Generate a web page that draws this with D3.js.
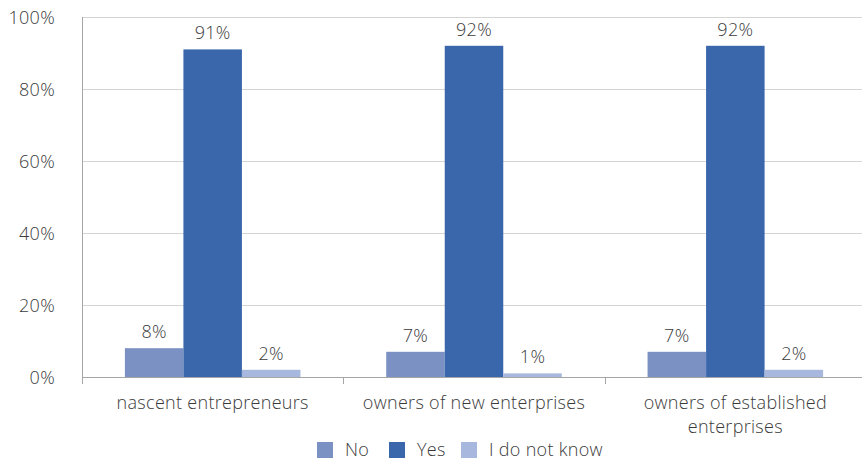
<!DOCTYPE html>
<html>
<head>
<meta charset="utf-8">
<script src="https://cdn.jsdelivr.net/npm/d3@7"></script>
<style>
  html, body { margin: 0; padding: 0; background: #fff; }
  svg { display: block; font-family: "Open Sans", "Segoe UI", sans-serif; }
  text { fill: #3a3a3a; letter-spacing: 0.3px; }
</style>
</head>
<body>
<svg id="chart" width="862" height="460"></svg>
<script>
// Survey answers by entrepreneur type (percent)
const categories = [
  ["nascent entrepreneurs"],
  ["owners of new enterprises"],
  ["owners of established", "enterprises"]
];
const seriesNames = ["No", "Yes", "I do not know"];
const noValues = [8, 7, 7];
const yesValues = [91, 92, 92];
const dontKnowValues = [2, 1, 2];
const yTicks = [0, 20, 40, 60, 80, 100];
const seriesColors = ["#7b91c4", "#3a67ab", "#a8b7dd"];

const series = [noValues, yesValues, dontKnowValues];
const FS = 18;

const svg = d3.select("#chart");
const margin = { left: 82, top: 17, bottom: 377 };
const plotRight = 866;

const x = d3.scaleBand()
  .domain(d3.range(categories.length))
  .range([margin.left, plotRight])
  .paddingInner(0)
  .paddingOuter(0);

const inner = d3.scaleBand()
  .domain(d3.range(seriesNames.length))
  .range([0, x.bandwidth()])
  .paddingOuter(0.733)
  .paddingInner(0);

const y = d3.scaleLinear().domain([0, 100]).range([margin.bottom, margin.top]);

// horizontal gridlines
svg.append("g")
  .selectAll("line")
  .data(yTicks.filter(t => t > 0))
  .join("line")
  .attr("x1", margin.left)
  .attr("x2", 862)
  .attr("y1", d => y(d) + 0.5)
  .attr("y2", d => y(d) + 0.5)
  .attr("stroke", "#d4d4d4")
  .attr("stroke-width", 1);

// y axis labels
const yAxis = d3.axisLeft(y).tickValues(yTicks).tickFormat(d => d + "%").tickSize(0).tickPadding(27);
const yg = svg.append("g").attr("transform", `translate(${margin.left},0)`).call(yAxis);
yg.select(".domain").remove();
yg.selectAll("text")
  .attr("font-size", FS)
  .attr("font-weight", 300)
  .attr("fill", "#3a3a3a")
  .attr("font-family", "\"Open Sans\", sans-serif")
  .attr("dy", "0.35em");

// bars
const groups = svg.append("g")
  .selectAll("g")
  .data(categories.map((c, i) => i))
  .join("g")
  .attr("transform", i => `translate(${x(i)},0)`);

groups.selectAll("rect")
  .data(i => series.map((s, k) => ({ k, v: s[i] })))
  .join("rect")
  .attr("x", d => inner(d.k))
  .attr("width", inner.bandwidth())
  .attr("y", d => y(d.v))
  .attr("height", d => y(0) - y(d.v))
  .attr("fill", d => seriesColors[d.k]);

// value labels
groups.selectAll("text.val")
  .data(i => series.map((s, k) => ({ k, v: s[i] })))
  .join("text")
  .attr("class", "val")
  .attr("x", d => inner(d.k) + inner.bandwidth() / 2)
  .attr("y", d => y(d.v) - 10)
  .attr("text-anchor", "middle")
  .attr("font-size", FS)
  .attr("font-weight", 300)
  .text(d => d.v + "%");

// x axis baseline and ticks
svg.append("line")
  .attr("x1", margin.left).attr("x2", 862)
  .attr("y1", y(0) + 0.5).attr("y2", y(0) + 0.5)
  .attr("stroke", "#a6a6a6");
svg.append("line")
  .attr("x1", margin.left + 0.5).attr("x2", margin.left + 0.5)
  .attr("y1", margin.top).attr("y2", y(0) + 7)
  .attr("stroke", "#a6a6a6");
svg.append("g")
  .selectAll("line")
  .data(d3.range(1, categories.length))
  .join("line")
  .attr("x1", i => Math.round(x(i)) + 0.5)
  .attr("x2", i => Math.round(x(i)) + 0.5)
  .attr("y1", y(0))
  .attr("y2", y(0) + 7)
  .attr("stroke", "#a6a6a6");

// category labels
svg.append("g")
  .selectAll("text")
  .data(categories)
  .join("text")
  .attr("x", (d, i) => x(i) + x.bandwidth() / 2)
  .attr("y", 409)
  .attr("text-anchor", "middle")
  .attr("font-size", FS)
  .attr("font-weight", 300)
  .selectAll("tspan")
  .data((d, i) => d.map(line => ({ line, i })))
  .join("tspan")
  .attr("x", d => x(d.i) + x.bandwidth() / 2)
  .attr("dy", (d, j) => j === 0 ? 0 : 24)
  .text(d => d.line);

// legend
const legendX = [317, 389, 461];
const legend = svg.append("g")
  .selectAll("g")
  .data(seriesNames)
  .join("g")
  .attr("transform", (d, i) => `translate(${legendX[i]},442)`);
legend.append("rect")
  .attr("width", 16).attr("height", 16)
  .attr("fill", (d, i) => seriesColors[i]);
legend.append("text")
  .attr("x", 28).attr("y", 14)
  .attr("font-size", FS)
  .attr("font-weight", 300)
  .text(d => d);
</script>
</body>
</html>
